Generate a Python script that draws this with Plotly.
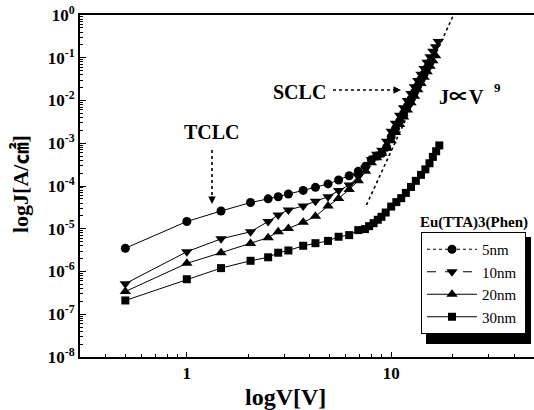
import plotly.graph_objects as go

# ---------------- data ----------------
V_5nm = [0.5, 1.0, 1.47, 2.05, 2.5, 2.8, 3.14, 3.71, 4.26, 4.91, 5.53, 6.23, 6.9, 7.5, 8.0, 8.5,
         9.0, 9.5, 10, 10.5, 11, 11.5, 12, 12.5, 13, 13.5, 14, 14.5, 15, 15.5]
J_5nm = [3.5e-6, 1.48e-5, 2.6e-5, 4.1e-5, 5.0e-5, 5.6e-5, 6.5e-5, 7.9e-5, 9.3e-5, 1.12e-4, 1.38e-4,
         1.74e-4, 2.2e-4, 2.9e-4, 4.1e-4, 5.0e-4, 5.8e-4, 8.1e-4, 1.41e-3, 2.2e-3, 3.3e-3, 5.0e-3,
         7.4e-3, 1.07e-2, 1.55e-2, 2.2e-2, 3.1e-2, 4.2e-2, 5.8e-2, 7.8e-2]

V_10nm = [0.5, 1.0, 1.47, 2.05, 2.5, 2.8, 3.14, 3.71, 4.26, 4.91, 5.53, 6.23, 6.9, 7.5, 8.0, 8.5,
          9.0, 9.5, 10, 10.5, 11, 11.5, 12, 12.5, 13, 13.5, 14, 14.5, 15, 15.5, 16, 16.5, 17]
J_10nm = [5.2e-7, 2.9e-6, 5.8e-6, 8.5e-6, 1.48e-5, 2.1e-5, 2.75e-5, 3.4e-5, 4.4e-5, 5.6e-5, 7.8e-5,
          1.05e-4, 1.66e-4, 2.6e-4, 4.1e-4, 5.5e-4, 6.9e-4, 1.12e-3, 1.9e-3, 2.95e-3, 4.5e-3, 6.8e-3,
          1.0e-2, 1.45e-2, 2.1e-2, 2.95e-2, 4.1e-2, 5.6e-2, 7.8e-2, 0.105, 0.141, 0.182, 0.24]

V_20nm = [0.5, 1.0, 1.47, 2.05, 2.5, 2.8, 3.14, 3.71, 4.26, 4.91, 5.53, 6.23, 6.9, 7.5, 8.0, 8.5,
          9.0, 9.5, 10, 10.5, 11, 11.5, 12, 12.5, 13, 13.5, 14, 14.5, 15, 15.5, 16, 16.5]
J_20nm = [3.4e-7, 1.55e-6, 2.75e-6, 4.5e-6, 6.2e-6, 8.5e-6, 1.02e-5, 1.41e-5, 1.95e-5, 3.4e-5, 5.1e-5,
          8.3e-5, 1.32e-4, 2.2e-4, 3.5e-4, 4.6e-4, 5.8e-4, 7.6e-4, 1.15e-3, 1.78e-3, 2.75e-3, 4.1e-3,
          6.0e-3, 8.9e-3, 1.26e-2, 1.78e-2, 2.5e-2, 3.5e-2, 4.7e-2, 6.3e-2, 8.5e-2, 0.112]

V_30nm = [0.5, 1.0, 1.47, 2.05, 2.5, 2.8, 3.14, 3.71, 4.26, 4.91, 5.53, 6.23, 6.9, 7.44, 7.8, 8.2,
          8.6, 8.96, 9.4, 10.0, 10.6, 11.2, 11.8, 12.5, 13.2, 14.0, 14.7, 15.4, 16.0, 16.6, 17.2]
J_30nm = [2.1e-7, 6.6e-7, 1.2e-6, 1.78e-6, 2.15e-6, 2.75e-6, 3.1e-6, 4.0e-6, 4.6e-6, 5.2e-6, 6.5e-6,
          7.1e-6, 9.3e-6, 9.8e-6, 1.15e-5, 1.35e-5, 1.62e-5, 1.9e-5, 2.4e-5, 3.3e-5, 4.2e-5, 5.2e-5,
          6.9e-5, 9.5e-5, 1.32e-4, 1.82e-4, 2.45e-4, 3.4e-4, 4.8e-4, 6.5e-4, 8.9e-4]

fit_V = [7.57, 20.0]      # J ∝ V^9 guide line
fit_J = [3.6e-5, 0.91]

series_names = ["5nm", "10nm", "20nm", "30nm"]
y_tickvals = [1e-8, 1e-7, 1e-6, 1e-5, 1e-4, 1e-3, 1e-2, 1e-1, 1]
y_ticktext = ["10<sup>-8</sup>", "10<sup>-7</sup>", "10<sup>-6</sup>", "10<sup>-5</sup>",
              "10<sup>-4</sup>", "10<sup>-3</sup>", "10<sup>-2</sup>", "10<sup>-1</sup>", "10<sup>0</sup>"]
x_tickvals = [1, 10]
x_ticktext = ["1", "10"]
x_minor = [0.4, 0.5, 0.6, 0.7, 0.8, 0.9, 2, 3, 4, 5, 6, 7, 8, 9, 20, 30, 40]
y_minor = [m * 10.0 ** e for e in range(-8, 0) for m in range(2, 10)]

# ---------------- layout helpers ----------------
W, H = 534, 410
L, R, T, B = 80, 0, 15, 53
def px(x):
    return (x - L) / (W - L - R)
def py(y):
    return (H - B - y) / (H - T - B)

FONT = "Liberation Serif, Times New Roman, Noto Sans CJK JP, serif"

fig = go.Figure()

fig.add_trace(go.Scatter(x=fit_V, y=fit_J, mode="lines", showlegend=False,
                         line=dict(color="black", width=1.6, dash="dot")))

series = [(V_5nm, J_5nm, "circle", 9), (V_10nm, J_10nm, "triangle-down", 10),
          (V_20nm, J_20nm, "triangle-up", 10), (V_30nm, J_30nm, "square", 8)]
dashes = ["dot", "dash", "solid", "solid"]
for (vx, jy, sym, sz) in series:
    fig.add_trace(go.Scatter(x=vx, y=jy, mode="lines+markers", showlegend=False,
                             line=dict(color="black", width=1),
                             marker=dict(symbol=sym, size=sz, color="black")))
# legend entries
for name, (vx, jy, sym, sz), d in zip(series_names, series, dashes):
    fig.add_trace(go.Scatter(x=[None], y=[None], mode="lines+markers", name=name + "\u00a0",
                             line=dict(color="black", width=1, dash=d),
                             marker=dict(symbol=sym, size=sz, color="black")))

fig.update_xaxes(type="log", range=[-0.5229, 1.699], tickvals=x_tickvals, ticktext=x_ticktext,
                 ticks="inside", ticklen=5, tickwidth=1, tickcolor="black",
                 minor=dict(tickvals=x_minor, ticks="inside", ticklen=3, tickwidth=1, tickcolor="black"),
                 showline=True, linewidth=2, linecolor="black", mirror=True,
                 showgrid=False, zeroline=False,
                 tickfont=dict(family=FONT, size=17, color="black", weight="bold"))
fig.update_yaxes(type="log", range=[-8, 0], tickvals=y_tickvals, ticktext=y_ticktext,
                 ticks="inside", ticklen=6, tickwidth=1, tickcolor="black",
                 minor=dict(tickvals=y_minor, ticks="inside", ticklen=3, tickwidth=1, tickcolor="black"),
                 showline=True, linewidth=2, linecolor="black", mirror=False,
                 showgrid=False, zeroline=False,
                 tickfont=dict(family=FONT, size=17, color="black", weight="bold"))

ann = []
def text(x, y, s, size, bold=True, angle=0):
    ann.append(dict(x=px(x), y=py(y), xref="paper", yref="paper", text=s, showarrow=False,
                    textangle=angle, xanchor="center", yanchor="middle",
                    font=dict(family=FONT, size=size, color="black", weight="bold" if bold else "normal")))

text(285, 397, "logV[V]", 24)
text(21, 184, "logJ[A/㎠]", 22, angle=-90)
text(212, 132, "TCLC", 20)
text(299, 92, "SCLC", 20)
text(461, 97, "J∝V", 20)
text(497, 87, "9", 13)
text(474, 222, "Eu(TTA)3(Phen)", 15)

# arrow heads
ann.append(dict(x=px(212), y=py(204), xref="paper", yref="paper", text="", showarrow=True,
                ax=0, ay=-9, arrowhead=2, arrowsize=1, arrowwidth=1.5, arrowcolor="black"))
ann.append(dict(x=px(401), y=py(90), xref="paper", yref="paper", text="", showarrow=True,
                ax=-9, ay=0, arrowhead=2, arrowsize=1, arrowwidth=1.5, arrowcolor="black"))

shapes = [
    dict(type="line", xref="paper", yref="paper", x0=px(212), x1=px(212), y0=py(150), y1=py(198),
         line=dict(color="black", width=1.6, dash="dot")),
    dict(type="line", xref="paper", yref="paper", x0=px(333), x1=px(394), y0=py(90), y1=py(90),
         line=dict(color="black", width=1.6, dash="dot")),
    # legend shadow
    dict(type="rect", xref="paper", yref="paper", x0=px(426), x1=px(531), y0=py(344), y1=py(237),
         fillcolor="black", line=dict(width=0), layer="below"),
]

fig.update_layout(
    width=W, height=H, margin=dict(l=L, r=R, t=T, b=B),
    paper_bgcolor="white", plot_bgcolor="white",
    annotations=ann, shapes=shapes,
    legend=dict(x=px(421), y=py(232), xanchor="left", yanchor="top",
                bgcolor="white", bordercolor="black", borderwidth=1,
                font=dict(family=FONT, size=15, color="black"),
                tracegroupgap=0, itemwidth=50),
    showlegend=True,
)

fig.write_html("out.html")
